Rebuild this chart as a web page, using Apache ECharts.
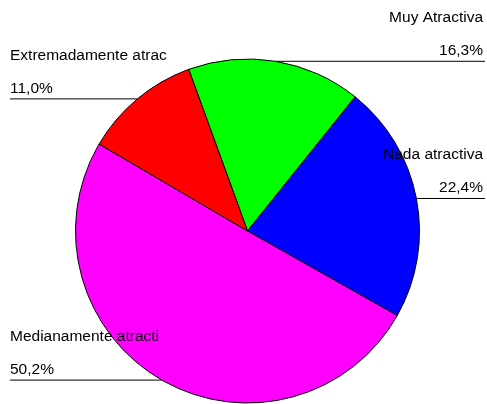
<!DOCTYPE html>
<html>
<head>
<meta charset="utf-8">
<title>Atractiva</title>
<script src="https://cdn.jsdelivr.net/npm/echarts@6/dist/echarts.min.js"></script>
<style>
    html, body { margin: 0; padding: 0; background: #fff; }
    #chart { width: 487px; height: 404px; }
</style>
</head>
<body>
<div id="chart"></div>
<script>
// data, clockwise from the top-left slice
var categories = ['Muy Atractiva', 'Nada atractiva', 'Medianamente atracti', 'Extremadamente atrac']
var shares = [16.3, 22.4, 50.2, 11.0]
var sliceColors = ['#00ff00', '#0000ff', '#ff00ff', '#ff0000']

var chartWidth = 487
var centerX = 247.5

var chart = echarts.init(document.getElementById('chart'), null, { renderer: 'canvas' })

function fmtPct(v) {
    return v.toFixed(1).replace('.', ',') + '%'
}

chart.setOption({
    animation: false,
    backgroundColor: '#fff',
    series: [
        {
            type: 'pie',
            center: [centerX, 231],
            radius: 172,
            startAngle: 110,
            clockwise: true,
            avoidLabelOverlap: false,
            silent: true,
            itemStyle: {
                borderColor: '#000',
                borderWidth: 1
            },
            label: {
                show: true,
                position: 'outside',
                fontFamily: 'Liberation Sans, Arial, sans-serif',
                fontSize: 15.5,
                lineHeight: 33,
                color: '#000',
                formatter: function (p) {
                    return p.name + '\n' + fmtPct(p.value)
                }
            },
            labelLine: {
                show: true,
                length: 0,
                length2: 0,
                lineStyle: { color: '#000', width: 1 }
            },
            // text sits above a horizontal rule running from the slice edge to the chart edge
            labelLayout: function (params) {
                var pts = params.labelLinePoints
                if (!pts) return {}
                var p = pts[0]
                var isRight = p[0] > centerX
                var edge = isRight ? chartWidth - 2 : 10
                return {
                    x: isRight ? chartWidth - 4 : 10,
                    y: p[1] + 6,
                    align: isRight ? 'right' : 'left',
                    verticalAlign: 'bottom',
                    labelLinePoints: [p, [edge, p[1]], [edge, p[1]]]
                }
            },
            data: categories.map(function (name, i) {
                return { name: name, value: shares[i], itemStyle: { color: sliceColors[i] } }
            })
        }
    ]
})
</script>
</body>
</html>
